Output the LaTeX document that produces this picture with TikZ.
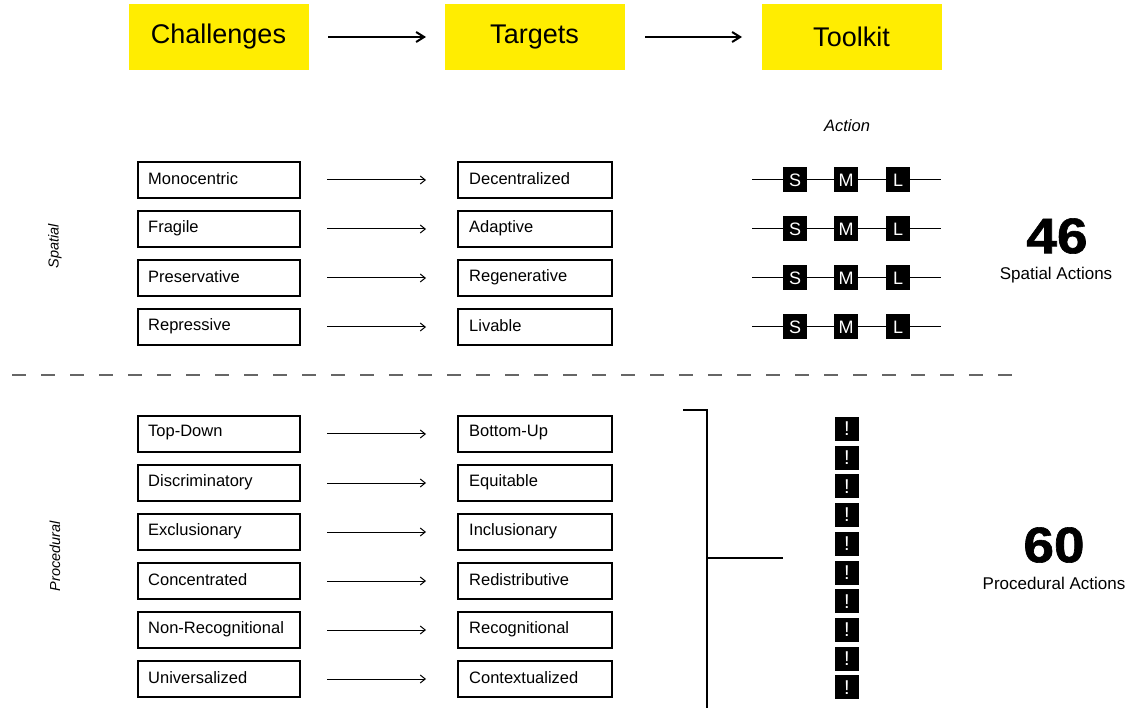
\documentclass[tikz,border=0pt]{standalone}
\usepackage{fontspec}
\setmainfont{Liberation Sans}
\newfontfamily\heavyfont[FakeBold=1.2]{Liberation Sans Bold}
\usetikzlibrary{arrows.meta}
\begin{document}
\begin{tikzpicture}[x=1pt,y=-1pt,
  hdr/.style={fill=yellow!95!orange, minimum width=180pt, minimum height=66pt, inner sep=0pt, font=\fontsize{27}{30}\selectfont},
  itembox/.style={draw, line width=1.1pt, minimum height=36pt, inner sep=0pt},
  itemtext/.style={anchor=west, font=\fontsize{16.5}{19}\selectfont, inner sep=0pt},
  harrow/.style={-{Straight Barb[length=8pt,width=10pt,line width=2pt]}, line width=2pt},
  sarrow/.style={-{Straight Barb[length=5pt,width=8pt]}, line width=1pt},
  sq/.style={fill=black, text=white, minimum width=24pt, minimum height=25pt, inner sep=0pt, font=\fontsize{18}{19}\selectfont},
  ex/.style={fill=black, text=white, minimum width=24pt, minimum height=24pt, inner sep=0pt, font=\fontsize{20}{21}\selectfont},
  bignum/.style={font=\fontsize{50}{54}\heavyfont},
  caption/.style={font=\fontsize{17}{20}\selectfont},
  side/.style={rotate=90, font=\fontsize{14.5}{17}\itshape\selectfont}
]
\useasboundingbox (0,0) rectangle (1130,708);
\fill[white] (0,0) rectangle (1130,708);

% headers
\node[hdr] (hc) at (218.5,37) {Challenges};
\node[hdr] (ht) at (534.5,37) {Targets};
\node[hdr] (hk) at (851.5,37) {Toolkit};
\coordinate (ha1s) at (328,37); \coordinate (ha1e) at (426,37);
\coordinate (ha2s) at (645,37); \coordinate (ha2e) at (742,37);
\draw[harrow] (ha1s) -- (ha1e);
\draw[harrow] (ha2s) -- (ha2e);

\node[font=\fontsize{16.5}{19}\itshape\selectfont] (act) at (847,126) {Action};

% rows
\foreach \i/\a/\b/\y in {1/Monocentric/Decentralized/180, 2/Fragile/Adaptive/229, 3/Preservative/Regenerative/278, 4/Repressive/Livable/327,
  5/Top-Down/Bottom-Up/434, 6/Discriminatory/Equitable/483, 7/Exclusionary/Inclusionary/532, 8/Concentrated/Redistributive/581, 9/Non-Recognitional/Recognitional/630, 10/Universalized/Contextualized/679}{
  \node[itembox, minimum width=162pt] (c\i) at (219,\y) {};
  \node[itemtext] (ct\i) at (148,\y-1) {\a};
  \node[itembox, minimum width=154pt] (t\i) at (535,\y) {};
  \node[itemtext] (tt\i) at (469,\y-1) {\b};
  \coordinate (as\i) at (327,\y); \coordinate (ae\i) at (426,\y);
  \draw[sarrow] (as\i) -- (ae\i);
}

% SML rows
\foreach \i/\y in {1/180,2/229,3/278,4/327}{
  \coordinate (ls\i) at (752,\y); \coordinate (le\i) at (941,\y);
  \draw[line width=1pt] (ls\i) -- (le\i);
  \node[sq] (s\i) at (795,\y) {S};
  \node[sq] (m\i) at (846,\y) {M};
  \node[sq] (l\i) at (898,\y) {L};
}

% dashed separator
\coordinate (d1) at (12,375); \coordinate (d2) at (1022,375);
\draw[line width=1.2pt, gray!80!black, dash pattern=on 14pt off 15pt] (d1) -- (d2);

% bracket
\coordinate (bt) at (683,410); \coordinate (btc) at (707,410);
\coordinate (bb) at (707,708); \coordinate (bm) at (707,558); \coordinate (bme) at (783,558);
\draw[line width=1.2pt] (bt) -- (btc) -- (bb);
\draw[line width=1.2pt] (bm) -- (bme);

% exclamation boxes
\foreach \k in {0,...,9}{
  \node[ex] (e\k) at (847,429+28.7*\k) {!};
}

% numbers
\node[bignum] (n46) at (1057,236) {\scalebox{1.1}[1]{46}};
\node[caption] (cap46) at (1056,275) {Spatial Actions};
\node[bignum] (n60) at (1054,545) {\scalebox{1.1}[1]{60}};
\node[caption] (cap60) at (1054,583) {Procedural Actions};

% side labels
\node[side] (sp) at (55,246) {Spatial};
\node[side] (pr) at (55,556) {Procedural};
\end{tikzpicture}
\end{document}
